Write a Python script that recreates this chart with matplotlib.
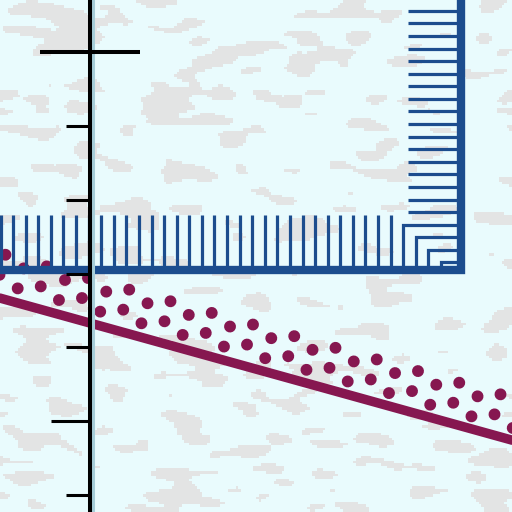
import numpy as np
import matplotlib
matplotlib.use("Agg")
import matplotlib.pyplot as plt
import matplotlib.transforms as mtransforms
from matplotlib.collections import LineCollection
from matplotlib.colors import ListedColormap

# ---- values (axis units, 1 unit = one tick step) ----
y_ticks = [0, 1, 2, 3, 4, 5, 6]
trend_x = [-1.3, 5.8]
trend_y = [2.69, 0.72]
band_slope = -0.282
band_x0 = [-0.9005, -1.148, -0.9825, -1.229]   # first visible dot of each row
band_y0 = [3.0706, 3.255, 2.7996, 2.984]
bar_bottom = 3.055
bar_right = 5.018

BG, BLOTCH = "#e9fbfd", "#e3e4e4"
BLUE, WINE = "#1c4d8e", "#861750"
XL, YL = (-1.222, 5.708), (-0.227, 6.703)

plt.rcParams["lines.scale_dashes"] = False
fig = plt.figure(figsize=(5.12, 5.12), dpi=100)
ax = fig.add_axes([0, 0, 1, 1])

# paper texture behind everything (decoration only)
n = 200
rng = np.random.default_rng(5)
noise = rng.standard_normal((n, n))
fy = np.fft.fftfreq(n)[:, None]; fx = np.fft.fftfreq(n)[None, :]
filt = np.exp(-2 * np.pi ** 2 * ((fx * 4.0) ** 2 + (fy * 1.6) ** 2))
sm = np.real(np.fft.ifft2(np.fft.fft2(noise) * filt))
tex = (sm > np.quantile(sm, 0.79)).astype(float)
ax.imshow(tex, cmap=ListedColormap([BG, BLOTCH]), extent=(*XL, *YL),
          interpolation="nearest", aspect="auto", zorder=0)

# dotted band: four dotted rows running with the trend
for x0, y0 in zip(band_x0, band_y0):
    x1 = 5.8
    ax.plot([x0, x1], [y0, y0 + band_slope * (x1 - x0)], color=WINE, lw=8.6,
            linestyle=(0, (0.01, 30.85)), dash_capstyle="round", zorder=2)

# solid trend line
ax.plot(trend_x, trend_y, color=WINE, lw=6.8, solid_capstyle="butt", zorder=2)

# combed corner of the bar
tooth_gap, tooth_v, tooth_h, lag = 0.1703, 0.744, 0.717, 0.176
segs = []
for k in range(1, 45):
    dx = 0.1015 + tooth_gap * k
    dy = dx - lag
    if dx <= 0.79:
        segs.append([(bar_right - dx, bar_bottom), (bar_right - dx, bar_bottom + dy),
                     (bar_right, bar_bottom + dy)])
    else:
        segs.append([(bar_right - dx, bar_bottom), (bar_right - dx, bar_bottom + tooth_v)])
        segs.append([(bar_right - tooth_h, bar_bottom + dy), (bar_right, bar_bottom + dy)])
ax.add_collection(LineCollection(segs, colors=BLUE, linewidths=2.3, capstyle="butt",
                                 joinstyle="miter", zorder=3))
ax.plot([XL[0] - 0.2, bar_right, bar_right], [bar_bottom, bar_bottom, YL[1] + 0.2],
        color=BLUE, lw=6.0, solid_joinstyle="miter", zorder=3)

# y axis in the middle of the view
shift = mtransforms.ScaledTranslation(3.2 / 100, 0, fig.dpi_scale_trans)
ax.plot([0, 0], [0, 1], transform=ax.get_xaxis_transform() + shift,
        color="#a6cdd8", lw=2.2, zorder=5)
for s in ("top", "right", "bottom"):
    ax.spines[s].set_visible(False)
ax.spines["left"].set_position(("data", 0))
ax.spines["left"].set_linewidth(2.9)
ax.spines["left"].set_zorder(6)
ax.yaxis.set_zorder(6)
ax.set_xticks([])
ax.set_yticks(y_ticks)
ax.tick_params(axis="y", direction="out", length=17.5, width=2.2, labelleft=False)
ticks = ax.yaxis.get_major_ticks()
ticks[1].tick1line.set_markersize(28)
ticks[6].tick1line.set_marker("_")
ticks[6].tick1line.set_markersize(72)
ticks[6].tick1line.set_markeredgewidth(2.9)

ax.set_xlim(*XL)
ax.set_ylim(*YL)
fig.savefig("out.png", dpi=100, facecolor=BG)
